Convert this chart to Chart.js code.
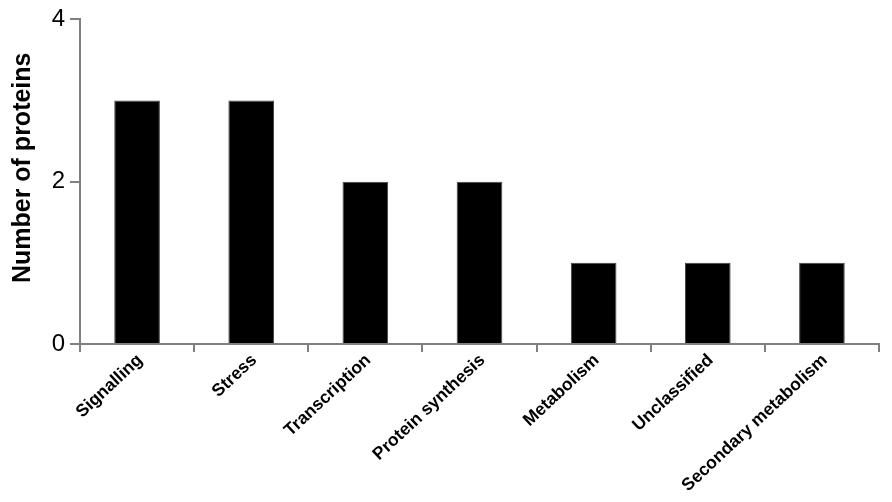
<!DOCTYPE html>
<html>
<head>
<meta charset="utf-8">
<script src="https://cdn.jsdelivr.net/npm/chart.js@4"></script>
<style>
  html, body { margin: 0; padding: 0; background: #fff; }
  #wrap { width: 892px; height: 502px; }
</style>
</head>
<body>
<div id="wrap"><canvas id="chart"></canvas></div>
<script>
const categories = ["Signalling", "Stress", "Transcription", "Protein synthesis", "Metabolism", "Unclassified", "Secondary metabolism"];
const proteinCounts = [3, 3, 2, 2, 1, 1, 1];
const yTicks = [0, 2, 4];

const axisGrey = "#808080";

new Chart(document.getElementById("chart"), {
  type: "bar",
  data: {
    labels: categories,
    datasets: [
      {
        data: proteinCounts,
        backgroundColor: "#000",
        borderColor: "#444",
        borderWidth: 1,
        barPercentage: 0.4,
        categoryPercentage: 1,
      },
    ],
  },
  options: {
    responsive: true,
    maintainAspectRatio: false,
    animation: false,
    layout: { padding: { top: 18, right: 13, left: 0, bottom: 0 } },
    plugins: {
      legend: { display: false },
      tooltip: { enabled: false },
    },
    scales: {
      x: {
        offset: true,
        border: { display: true, color: axisGrey, width: 2 },
        grid: {
          offset: true,
          drawOnChartArea: false,
          drawTicks: true,
          tickLength: 8,
          color: axisGrey,
          lineWidth: 2,
        },
        ticks: {
          color: "#000",
          font: { family: "Liberation Sans, Arial", size: 17.5, weight: "bold" },
          minRotation: 43,
          maxRotation: 43,
          autoSkip: false,
          padding: -2,
          labelOffset: 3,
        },
        afterFit: (scale) => { scale.height = 158; },
      },
      y: {
        min: 0,
        max: 4,
        afterBuildTicks: (scale) => {
          scale.ticks = yTicks.map((v) => ({ value: v }));
        },
        border: { display: true, color: axisGrey, width: 2 },
        grid: {
          drawOnChartArea: false,
          drawTicks: true,
          tickLength: 10,
          color: axisGrey,
          lineWidth: 2,
        },
        ticks: {
          color: "#000",
          font: { family: "Liberation Sans, Arial", size: 24 },
          padding: 5,
        },
        title: {
          display: true,
          // leading spaces nudge the title up a bit, like the original
          text: "    Number of proteins",
          color: "#000",
          font: { family: "Liberation Sans, Arial", size: 25, weight: "bold" },
          padding: { top: 8, bottom: 0 },
        },
        afterFit: (scale) => { scale.width = 80; },
      },
    },
  },
});
</script>
</body>
</html>
